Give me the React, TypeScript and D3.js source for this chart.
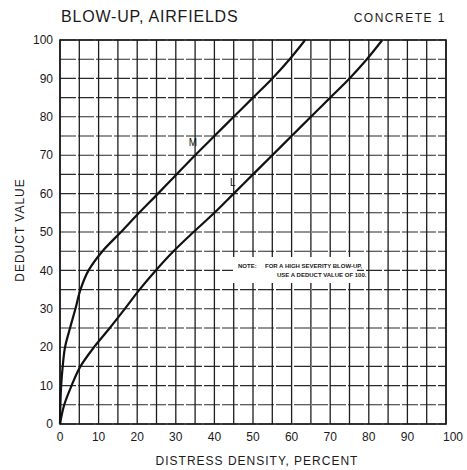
import React from "react";
import * as d3 from "d3";

const xTicks = [0, 10, 20, 30, 40, 50, 60, 70, 80, 90, 100];
const yTicks = [0, 10, 20, 30, 40, 50, 60, 70, 80, 90, 100];
const gridValues = d3.range(0, 101, 5);

const curveM: [number, number][] = [
  [0, 0], [0.3, 10], [0.7, 15], [1.3, 20], [2.6, 25], [4, 30], [5.3, 35], [7.4, 40],
  [11, 45], [15.8, 50], [20.5, 55], [25, 59.6], [30, 64.8], [35, 70], [40, 75], [45, 80],
  [50, 85], [55, 90], [59.5, 95], [63.5, 100],
];
const curveL: [number, number][] = [
  [0, 0], [1.1, 5], [3, 10], [5.3, 15], [8.8, 20], [12.9, 25], [16.8, 30], [20.6, 35],
  [24.8, 40], [29.4, 45], [34.6, 50], [40, 55], [45, 60], [50, 65], [55, 70], [60, 75],
  [65, 80], [70, 85], [75, 90], [79.5, 95], [83.5, 100],
];
const curveLabels = [
  { text: "M", x: 35.5, y: 72.5 },
  { text: "L", x: 45.5, y: 62 },
];
const noteLines = ["NOTE:     FOR A HIGH SEVERITY BLOW-UP,", "USE A DEDUCT VALUE OF 100."];

export default function App() {
  const x = d3.scaleLinear().domain([0, 100]).range([60, 446]);
  const y = d3.scaleLinear().domain([0, 100]).range([424, 40]);
  const line = d3
    .line<[number, number]>()
    .x((d) => x(d[0]))
    .y((d) => y(d[1]))
    .curve(d3.curveMonotoneY);
  const font = "'Liberation Sans', Arial, sans-serif";
  const ink = "#1a1a1a";

  return (
    <svg
      width={467}
      height={470}
      style={{ position: "absolute", left: 0, top: 0, background: "#fff" }}
      fontFamily={font}
    >
      <rect x={0} y={0} width={467} height={470} fill="#fff" />
      {gridValues.map((v) => (
        <line
          key={"h" + v}
          x1={x(0)}
          x2={x(100)}
          y1={y(v)}
          y2={y(v)}
          stroke="#2a2a2a"
          strokeWidth={1.1}
          strokeDasharray="16 2"
        />
      ))}
      {gridValues.map((v) => (
        <line
          key={"v" + v}
          x1={x(v)}
          x2={x(v)}
          y1={y(0)}
          y2={y(100)}
          stroke="#1e1e1e"
          strokeWidth={1.3}
        />
      ))}
      <rect
        x={x(0)}
        y={y(100)}
        width={x(100) - x(0)}
        height={y(0) - y(100)}
        fill="none"
        stroke={ink}
        strokeWidth={1.6}
      />
      <rect x={233} y={257} width={124} height={26} fill="#fff" />
      <text x={238} y={268} fontSize={6} fontWeight="bold" fill={ink} xmlSpace="preserve">
        {noteLines[0]}
      </text>
      <text x={277} y={277} fontSize={6} fontWeight="bold" fill={ink}>
        {noteLines[1]}
      </text>
      <path d={line(curveM) || ""} fill="none" stroke="#111" strokeWidth={2.2} />
      <path d={line(curveL) || ""} fill="none" stroke="#111" strokeWidth={2.2} />
      <g opacity={0.999}>
        {curveLabels.map((c) => (
          <text
            key={c.text}
            x={x(c.x)}
            y={y(c.y)}
            fontSize={10}
            fill="#111"
            textAnchor="end"
          >
            {c.text}
          </text>
        ))}
      </g>
      {yTicks.map((v) => (
        <text
          key={"yt" + v}
          x={53}
          y={y(v)}
          dy="0.35em"
          fontSize={12}
          textAnchor="end"
          fill={ink}
        >
          {v}
        </text>
      ))}
      {xTicks.map((v) => (
        <text
          key={"xt" + v}
          x={x(v) + (v === 100 ? 7 : 0)}
          y={441}
          fontSize={12}
          textAnchor="middle"
          fill={ink}
        >
          {v}
        </text>
      ))}
      <text x={61} y={22} fontSize={16} fill={ink} letterSpacing={0.8}>
        BLOW-UP, AIRFIELDS
      </text>
      <text x={446} y={22} fontSize={12} fill={ink} textAnchor="end" letterSpacing={1.5}>
        CONCRETE 1
      </text>
      <text x={257} y={465} fontSize={12} fill={ink} textAnchor="middle" letterSpacing={1}>
        DISTRESS DENSITY, PERCENT
      </text>
      <text
        transform="translate(24,230) rotate(-90)"
        fontSize={12}
        fill={ink}
        textAnchor="middle"
        letterSpacing={1}
      >
        DEDUCT VALUE
      </text>
    </svg>
  );
}
